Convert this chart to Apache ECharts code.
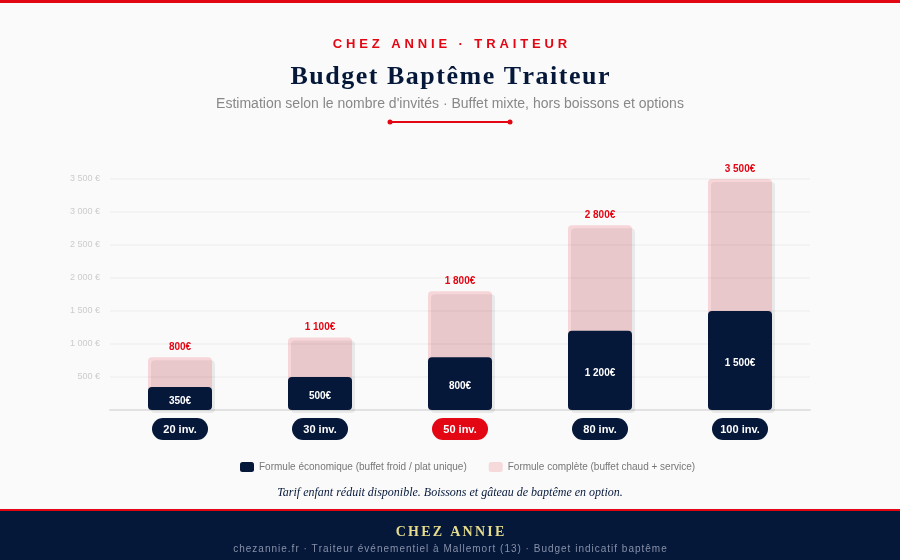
<!DOCTYPE html>
<html>
<head>
<meta charset="utf-8">
<script src="https://cdn.jsdelivr.net/npm/echarts@6/dist/echarts.min.js"></script>
<style>
  html, body { margin: 0; padding: 0; background: #fafafa; }
  #chart { width: 900px; height: 560px; }
</style>
</head>
<body>
<div id="chart"></div>
<script>
// données
var guests = ['20 inv.', '30 inv.', '50 inv.', '80 inv.', '100 inv.'];
var budgetEco = [350, 500, 800, 1200, 1500];
var budgetComplet = [800, 1100, 1800, 2800, 3500];
var highlight = '50 inv.';

var NAVY = '#05183a';
var RED = '#e30613';

function euro(v) {
  return String(v).replace(/\B(?=(\d{3})+(?!\d))/g, ' ');
}

// espacement des lettres : petit espace entre chaque caractère (texte riche)
function tracked(s, base, spFont) {
  var rich = { c: base, s: { fontSize: spFont, fontFamily: base.fontFamily } };
  var txt = s.split('').map(function (ch) {
    return '{c|' + ch + '}';
  }).join('{s| }');
  return { text: txt, rich: rich };
}

var chart = echarts.init(document.getElementById('chart'));

var pill = function (bg) {
  return {
    backgroundColor: bg, color: '#fff', borderRadius: 12,
    width: 56, align: 'center',
    padding: [6, 0, 5, 0], fontSize: 11, fontWeight: 'bold', fontFamily: 'Liberation Sans'
  };
};

var kicker = tracked('CHEZ ANNIE · TRAITEUR',
  { fill: RED, fontSize: 13, fontWeight: 'bold', fontFamily: 'Liberation Sans' }, 14);
var title = tracked('Budget Baptême Traiteur',
  { fill: NAVY, fontSize: 26, fontWeight: 'bold', fontFamily: 'Liberation Serif' }, 6);
var footName = tracked('CHEZ ANNIE',
  { fill: '#e6dc8c', fontSize: 14, fontWeight: 'bold', fontFamily: 'Liberation Serif' }, 9);
var footLine = tracked('chezannie.fr · Traiteur événementiel à Mallemort (13) · Budget indicatif baptême',
  { fill: '#8790a8', fontSize: 10, fontFamily: 'Liberation Sans' }, 3.6);

// grille principale + copie décalée de 3px pour l'ombre portée
var G = { left: 110, right: 90, top: 179, bottom: 150 };

var option = {
  backgroundColor: '#fafafa',
  animation: false,
  grid: [
    G,
    { left: G.left + 3, right: G.right - 3, top: G.top + 3, bottom: G.bottom - 3 }
  ],
  legend: {
    bottom: 83,
    left: 235,
    itemWidth: 14,
    itemHeight: 10,
    itemGap: 22,
    icon: 'roundRect',
    textStyle: { color: '#777', fontSize: 10, fontFamily: 'Liberation Sans' },
    data: [
      { name: 'Formule économique (buffet froid / plat unique)', itemStyle: { color: NAVY } },
      { name: 'Formule complète (buffet chaud + service)', itemStyle: { color: '#f6d9da' } }
    ]
  },
  xAxis: [
    {
      type: 'category',
      data: guests,
      z: 1,
      axisLine: { lineStyle: { color: '#e2e2e2', width: 2 } },
      axisTick: { show: false },
      axisLabel: {
        margin: 8,
        formatter: function (v) {
          return v === highlight ? '{hl|' + v + '}' : '{pill|' + v + '}';
        },
        rich: { pill: pill(NAVY), hl: pill(RED) }
      }
    },
    { type: 'category', data: guests, gridIndex: 1, show: false }
  ],
  yAxis: [
    {
      type: 'value',
      min: 0,
      max: 3500,
      interval: 500,
      axisLine: { show: false },
      axisTick: { show: false },
      splitLine: { lineStyle: { color: '#f0f0f0', width: 1.5 } },
      axisLabel: {
        color: '#cccccc', fontSize: 9, fontFamily: 'Liberation Sans', margin: 10,
        padding: [3, 0, 0, 0],
        formatter: function (v) { return v === 0 ? '' : euro(v) + ' €'; }
      }
    },
    { type: 'value', min: 0, max: 3500, gridIndex: 1, show: false, splitLine: { show: false } }
  ],
  series: [
    {
      name: 'ombre',
      type: 'bar',
      xAxisIndex: 1,
      yAxisIndex: 1,
      data: budgetComplet,
      barWidth: 64,
      z: 1,
      silent: true,
      itemStyle: { color: 'rgba(0,0,0,0.065)', borderRadius: 4 }
    },
    {
      name: 'Formule complète (buffet chaud + service)',
      type: 'bar',
      data: budgetComplet,
      barWidth: 64,
      barGap: '-100%',
      z: 2,
      itemStyle: {
        color: 'rgba(227,6,19,0.145)',
        borderRadius: 4
      },
      label: {
        show: true,
        position: 'top',
        distance: 5,
        color: RED,
        fontSize: 10,
        fontWeight: 'bold',
        fontFamily: 'Liberation Sans',
        formatter: function (p) { return euro(p.value) + '€'; }
      }
    },
    {
      name: 'Formule économique (buffet froid / plat unique)',
      type: 'bar',
      data: budgetEco,
      barWidth: 64,
      barGap: '-100%',
      z: 3,
      itemStyle: {
        color: NAVY,
        borderRadius: 4
      },
      label: {
        show: true,
        position: 'inside',
        offset: [0, 3],
        color: '#fff',
        fontSize: 10,
        fontWeight: 'bold',
        fontFamily: 'Liberation Sans',
        formatter: function (p) { return euro(p.value) + '€'; }
      }
    }
  ],
  graphic: [
    { type: 'rect', left: 0, top: 0, shape: { width: 900, height: 3 }, style: { fill: RED } },
    { type: 'text', left: 'center', top: 37, style: kicker },
    { type: 'text', left: 'center', top: 64, style: title },
    {
      type: 'text', left: 'center', top: 97,
      style: { text: "Estimation selon le nombre d'invités · Buffet mixte, hors boissons et options", fill: '#888', fontSize: 14, fontFamily: 'Liberation Sans' }
    },
    { type: 'line', shape: { x1: 390, y1: 122, x2: 510, y2: 122 }, style: { stroke: RED, lineWidth: 2 } },
    { type: 'circle', shape: { cx: 390, cy: 122, r: 2.5 }, style: { fill: RED } },
    { type: 'circle', shape: { cx: 510, cy: 122, r: 2.5 }, style: { fill: RED } },
    {
      type: 'text', left: 'center', top: 487,
      style: { text: 'Tarif enfant réduit disponible. Boissons et gâteau de baptême en option.', fill: NAVY, fontSize: 12, fontStyle: 'italic', fontFamily: 'Liberation Serif' }
    },
    { type: 'rect', left: 0, top: 509, shape: { width: 900, height: 51 }, style: { fill: NAVY } },
    { type: 'rect', left: 0, top: 509, shape: { width: 900, height: 2 }, style: { fill: RED } },
    { type: 'text', left: 'center', top: 525, style: footName },
    { type: 'text', left: 'center', top: 544, style: footLine }
  ]
};

chart.setOption(option);
</script>
</body>
</html>
